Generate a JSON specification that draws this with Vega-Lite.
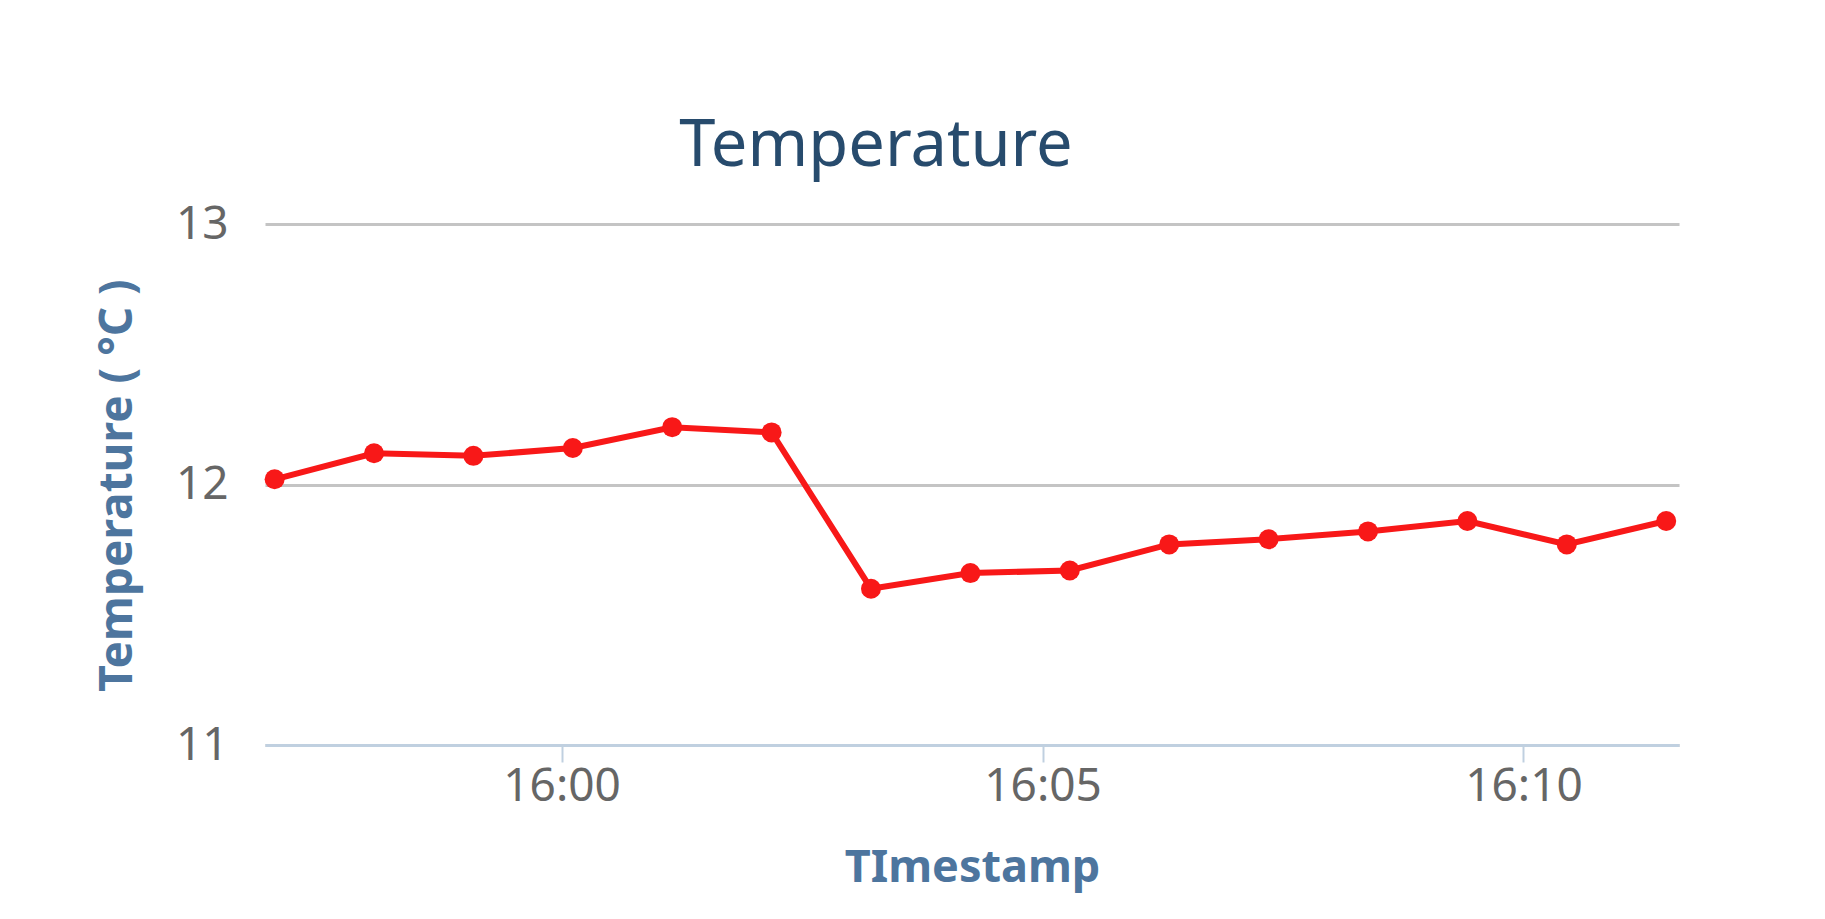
{
  "$schema": "https://vega.github.io/schema/vega-lite/v6.json",
  "autosize": "none",
  "width": 1414,
  "height": 521,
  "padding": {"left": 265, "top": 224, "right": 146, "bottom": 174},
  "background": "#ffffff",
  "config": {
    "view": {"stroke": null},
    "font": "Noto Sans"
  },
  "title": {
    "text": "Temperature",
    "anchor": "middle",
    "frame": "group",
    "fontSize": 65,
    "fontWeight": "normal",
    "font": "Noto Sans",
    "color": "#274b6d",
    "dx": -96,
    "offset": 21
  },
  "data": {
    "values": [
      {"Timestamp": "2024-01-01T15:57:01", "Temperature": 12.02},
      {"Timestamp": "2024-01-01T15:58:03", "Temperature": 12.12},
      {"Timestamp": "2024-01-01T15:59:05", "Temperature": 12.11},
      {"Timestamp": "2024-01-01T16:00:07", "Temperature": 12.14},
      {"Timestamp": "2024-01-01T16:01:09", "Temperature": 12.22},
      {"Timestamp": "2024-01-01T16:02:11", "Temperature": 12.2},
      {"Timestamp": "2024-01-01T16:03:13", "Temperature": 11.6},
      {"Timestamp": "2024-01-01T16:04:15", "Temperature": 11.66},
      {"Timestamp": "2024-01-01T16:05:17", "Temperature": 11.67},
      {"Timestamp": "2024-01-01T16:06:19", "Temperature": 11.77},
      {"Timestamp": "2024-01-01T16:07:21", "Temperature": 11.79},
      {"Timestamp": "2024-01-01T16:08:23", "Temperature": 11.82},
      {"Timestamp": "2024-01-01T16:09:25", "Temperature": 11.86},
      {"Timestamp": "2024-01-01T16:10:27", "Temperature": 11.77},
      {"Timestamp": "2024-01-01T16:11:29", "Temperature": 11.86}
    ]
  },
  "encoding": {
    "x": {
      "field": "Timestamp",
      "type": "temporal",
      "scale": {
        "domain": [
          {"year": 2024, "month": 1, "date": 1, "hours": 15, "minutes": 56, "seconds": 55},
          {"year": 2024, "month": 1, "date": 1, "hours": 16, "minutes": 11, "seconds": 37}
        ]
      },
      "axis": {
        "title": "TImestamp",
        "values": [
          {"year": 2024, "month": 1, "date": 1, "hours": 16, "minutes": 0},
          {"year": 2024, "month": 1, "date": 1, "hours": 16, "minutes": 5},
          {"year": 2024, "month": 1, "date": 1, "hours": 16, "minutes": 10}
        ],
        "format": "%H:%M",
        "grid": false,
        "domainColor": "#c0d0e0",
        "domainWidth": 3,
        "tickColor": "#c0d0e0",
        "tickWidth": 2,
        "tickSize": 17,
        "labelFontSize": 46,
        "labelColor": "#666666",
        "labelPadding": 2,
        "labelFont": "Noto Sans",
        "titleFont": "Noto Sans",
        "titleFontSize": 45,
        "titleFontWeight": "bold",
        "titleColor": "#4d759e",
        "titleBaseline": "alphabetic",
        "titleY": 136
      }
    },
    "y": {
      "field": "Temperature",
      "type": "quantitative",
      "scale": {"domain": [11, 13], "nice": false, "zero": false},
      "axis": {
        "title": "Temperature ( °C )",
        "tickCount": 3,
        "format": "d",
        "domain": false,
        "ticks": false,
        "grid": true,
        "gridColor": "#c4c4c4",
        "gridWidth": 3,
        "labelFontSize": 46,
        "labelColor": "#666666",
        "labelPadding": 37,
        "labelOverlap": false,
        "labelFont": "Noto Sans",
        "titleFont": "Noto Sans",
        "titleFontSize": 46,
        "titleFontWeight": "bold",
        "titleColor": "#4d759e",
        "titleBaseline": "alphabetic",
        "titleAlign": "center",
        "titleAngle": 270,
        "titleX": -134,
        "titleY": 261
      }
    }
  },
  "layer": [
    {
      "mark": {"type": "line", "color": "#f81818", "strokeWidth": 6}
    },
    {
      "mark": {"type": "point", "filled": true, "color": "#f81818", "opacity": 1, "size": 400}
    }
  ]
}
